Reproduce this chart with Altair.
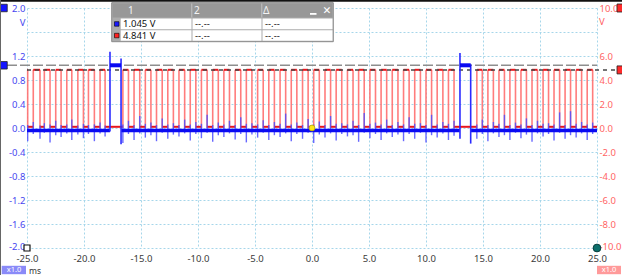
import altair as alt
import pandas as pd

# ---------------- data ----------------
x_ticks_ms = [-25, -20, -15, -10, -5, 0, 5, 10, 15, 20, 25]
ch1_ticks_v = [-2.0, -1.6, -1.2, -0.8, -0.4, 0.0, 0.4, 0.8, 1.2, 1.6, 2.0]
ch2_ticks_v = [-10, -8, -6, -4, -2, 0, 2, 4, 6, 8, 10]

# channel 2 (red) square-wave edges, ms
red_edges_ms = [
    -24.94, -24.45, -23.86, -23.48, -22.98, -22.48, -22.01, -21.51, -21.07, -20.54,
    -20.05, -19.61, -19.09, -18.59, -18.15,
    -16.59, -16.10, -15.61, -15.11, -14.62, -14.13, -13.64, -13.14, -12.65, -12.16,
    -11.67, -11.17, -10.68, -10.19, -9.70, -9.20, -8.71, -8.22, -7.73, -7.24,
    -6.74, -6.25, -5.76, -5.27, -4.77, -4.28, -3.79, -3.30, -2.80, -2.31,
    -1.82, -1.33, -0.83, -0.34, 0.15, 0.64, 1.14, 1.63, 2.12, 2.61,
    3.11, 3.60, 4.09, 4.58, 5.08, 5.57, 6.06, 6.55, 7.04, 7.54,
    8.03, 8.52, 9.01, 9.51, 10.00, 10.49, 10.98, 11.48, 11.97, 12.46,
    14.46, 14.94, 15.43, 15.91, 16.40, 16.88, 17.36, 17.85, 18.33, 18.81,
    19.30, 19.78, 20.27, 20.75, 21.23, 21.72, 22.20, 22.68, 23.17, 23.65,
    24.14, 24.62,
]
# channel 1 (blue) glitches at each edge, V
blue_spike_low_v = [
    -0.22, -0.10, -0.18, -0.08, -0.24, -0.12, -0.15, -0.09, -0.20, -0.11,
    -0.17, -0.10, -0.22, -0.09, -0.14,
    -0.25, -0.10, -0.20, -0.09, -0.16, -0.12, -0.22, -0.08, -0.18, -0.11,
    -0.14, -0.09, -0.21, -0.10, -0.17, -0.08, -0.23, -0.12, -0.15, -0.09,
    -0.19, -0.10, -0.24, -0.11, -0.16, -0.08, -0.20, -0.12, -0.15, -0.09,
    -0.22, -0.10, -0.18, -0.08, -0.25, -0.11, -0.16, -0.09, -0.21, -0.10,
    -0.14, -0.12, -0.23, -0.08, -0.17, -0.10, -0.20, -0.09, -0.15, -0.11,
    -0.22, -0.10, -0.18, -0.08, -0.24, -0.12, -0.16, -0.09, -0.20, -0.13,
    -0.18, -0.10, -0.22, -0.09, -0.15, -0.12, -0.20, -0.08, -0.17, -0.11,
    -0.23, -0.09, -0.14, -0.10, -0.21, -0.08, -0.18, -0.12, -0.16, -0.09,
    -0.20, -0.10,
]
blue_spike_high_v = [
    0.05, 0.10, 0.04, 0.08, 0.06, 0.12, 0.05, 0.06, 0.14, 0.04,
    0.07, 0.05, 0.06, 0.09, 0.04,
    0.06, 0.12, 0.05, 0.20, 0.07, 0.09, 0.05, 0.16, 0.06, 0.08,
    0.05, 0.14, 0.06, 0.10, 0.07, 0.22, 0.05, 0.09, 0.06, 0.12,
    0.05, 0.18, 0.07, 0.08, 0.06, 0.13, 0.05, 0.10, 0.07, 0.24,
    0.06, 0.09, 0.05, 0.15, 0.06, 0.11, 0.05, 0.20, 0.07, 0.08,
    0.06, 0.12, 0.05, 0.25, 0.07, 0.09, 0.06, 0.14, 0.05, 0.10,
    0.06, 0.18, 0.07, 0.08, 0.05, 0.22, 0.06, 0.10, 0.07, 0.12,
    0.06, 0.14, 0.05, 0.10, 0.07, 0.22, 0.05, 0.09, 0.06, 0.16,
    0.05, 0.12, 0.07, 0.08, 0.06, 0.26, 0.05, 0.28, 0.07, 0.10,
    0.06, 0.09,
]

red_high_v = 4.85
red_low_v = 0.1
blue_base_v = -0.04
blue_high_v = 1.045
burst_start_ms = [-17.72, 12.98]
burst_end_ms = [-16.75, 13.92]
burst_peak_v = [1.27, 1.25]
burst_low_v = [-0.06, -0.18]
burst_top_v = [1.16, 1.06]
burst_dip_v = [-0.27, -0.26]

cursor_ch1_v = 1.045
cursor_ch2_v = 4.841
cursor_headers = ["1", "2", "\u0394"]
cursor_row_ch1 = ["1.045 V", "--.--", "--.--"]
cursor_row_ch2 = ["4.841 V", "--.--", "--.--"]
time_unit = "ms"
volt_unit = "V"
zoom_labels = ["x1.0", "x1.0"]

# ---------------- tables ----------------
bounds = [-25.0] + red_edges_ms + [25.0]
red_segs = []
high = True
for a, b in zip(bounds[:-1], bounds[1:]):
    red_segs.append({"t0": a, "t1": b, "v": red_high_v if high else red_low_v})
    high = not high
red_segs = pd.DataFrame(red_segs)
red_vert = pd.DataFrame({"t": red_edges_ms, "lo": [0.0] * len(red_edges_ms),
                         "hi": [red_high_v] * len(red_edges_ms)})
blue_spikes = pd.DataFrame({"t": red_edges_ms, "lo": blue_spike_low_v, "hi": blue_spike_high_v})
blue_base = pd.DataFrame({
    "t0": [-25.0, burst_end_ms[0], burst_end_ms[1]],
    "t1": [burst_start_ms[0], burst_start_ms[1], 25.0],
    "v": [blue_base_v] * 3,
})
blue_up = pd.DataFrame({"t": burst_start_ms, "lo": burst_low_v, "hi": burst_peak_v})
blue_down = pd.DataFrame({"t": burst_end_ms, "lo": burst_dip_v, "hi": burst_top_v})
blue_hi = pd.DataFrame({"t0": burst_start_ms, "t1": burst_end_ms, "v": [blue_high_v] * 2})

# ---------------- styling ----------------
FONT = "Noto Sans"
GRID = "#a6d6ea"
BLUE_LBL = "#4646f0"
RED_LBL = "#ff6464"
num_expr = "(datum.value < 0 ? '-' : '') + format(abs(datum.value), '.1f')"

x_scale = alt.Scale(domain=[-25, 25], nice=False, zero=False)
x_axis = alt.Axis(values=x_ticks_ms, labelExpr=num_expr, labelColor="#3a3a3a", labelFont=FONT,
                  labelFontSize=9.5, labelPadding=5.5, labelFlush=False, labelOverlap=False,
                  ticks=False, domain=False, grid=True, gridColor=GRID, gridDash=[2, 2],
                  gridWidth=1, gridOpacity=1, title=None)
y1_scale = alt.Scale(domain=[-2, 2], nice=False, zero=False)
y1_axis = alt.Axis(orient="left", values=ch1_ticks_v,
                   labelExpr="datum.value == 1.6 ? '' : " + num_expr,
                   labelOffset={"condition": {"test": "datum.value == -2", "value": -1.5}, "value": 0},
                   labelColor=BLUE_LBL, labelFont=FONT, labelFontSize=9.5, labelPadding=2,
                   labelOverlap=False, ticks=False, domain=False, grid=True, gridColor=GRID,
                   gridDash=[2, 2], gridWidth=1, gridOpacity=1, title=None)
y2_scale = alt.Scale(domain=[-10, 10], nice=False, zero=False)
y2_axis = alt.Axis(orient="right", values=ch2_ticks_v,
                   labelExpr="datum.value == 8 ? '' : " + num_expr,
                   labelOffset={"condition": {"test": "datum.value == -10", "value": -1.5}, "value": 0},
                   labelColor=RED_LBL, labelFont=FONT, labelFontSize=9.5, labelPadding=2,
                   labelOverlap=False, ticks=False, domain=False, grid=False, title=None)


def ex(f):
    return alt.X(f + ":Q", scale=x_scale, axis=x_axis, title=None)


def ey1(f):
    return alt.Y(f + ":Q", scale=y1_scale, axis=y1_axis, title=None)


def ey2(f):
    return alt.Y(f + ":Q", scale=y2_scale, axis=y2_axis, title=None)


one = pd.DataFrame({"k": [0]})


def px_rect(x1, x2, y1, y2, fill, stroke="", sw=0.0):
    props = {"fill": fill}
    if stroke:
        props["stroke"] = stroke
        props["strokeWidth"] = sw
    return alt.Chart(one).mark_rect(**props).encode(
        x=alt.value(x1), x2=alt.value(x2), y=alt.value(y1), y2=alt.value(y2))


def px_text(x, y, s, color, size=10, align="left", font=FONT, weight="normal"):
    return alt.Chart(one).mark_text(text=s, color=color, fontSize=size, align=align,
                                    baseline="middle", font=font, fontWeight=weight).encode(
        x=alt.value(x), y=alt.value(y))


# ---------------- channel 2 (red, right axis) ----------------
r_vert = alt.Chart(red_vert).mark_rule(color="#ff6e6e", strokeWidth=1.6, opacity=0.9).encode(
    x=ex("t"), y=ey2("lo"), y2=alt.Y2("hi:Q"))
r_seg = alt.Chart(red_segs).mark_rule(color="#e8161c", strokeWidth=2).encode(
    x=ex("t0"), x2=alt.X2("t1:Q"), y=ey2("v"))
r_cursor = alt.Chart(pd.DataFrame({"v": [cursor_ch2_v]})).mark_rule(
    color="#474747", strokeWidth=1.5, strokeDash=[4, 4]).encode(
    y=ey2("v"), x=alt.value(0), x2=alt.value(590))
r_marks = alt.Chart(pd.DataFrame({"v": [cursor_ch2_v, 10.0]})).mark_square(
    filled=True, color="#ff2a2a", stroke="#222222", strokeWidth=0.8, size=64, opacity=1).encode(
    y=ey2("v"), x=alt.value(594))
r_end = alt.Chart(pd.DataFrame({"t": [25.0], "v": [-10.0]})).mark_circle(
    color="#0c6f6c", stroke="#063b3a", strokeWidth=1, size=60, opacity=1).encode(
    x=ex("t"), y=ey2("v"))
red_group = alt.layer(r_vert, r_seg, r_cursor, r_marks, r_end)

# ---------------- channel 1 (blue, left axis) ----------------
b_cursor = alt.Chart(pd.DataFrame({"v": [cursor_ch1_v]})).mark_rule(
    color="#8e8e8e", strokeWidth=1.5, strokeDash=[10, 3]).encode(
    y=ey1("v"), x=alt.value(-20), x2=alt.value(570))
b_spk = alt.Chart(blue_spikes).mark_rule(color="#4d4dff", strokeWidth=1.4, opacity=0.85).encode(
    x=ex("t"), y=ey1("lo"), y2=alt.Y2("hi:Q"))
b_base = alt.Chart(blue_base).mark_rule(color="#0a0af2", strokeWidth=3.5).encode(
    x=ex("t0"), x2=alt.X2("t1:Q"), y=ey1("v"))
b_up = alt.Chart(blue_up).mark_rule(color="#2a2aff", strokeWidth=1.6).encode(
    x=ex("t"), y=ey1("lo"), y2=alt.Y2("hi:Q"))
b_down = alt.Chart(blue_down).mark_rule(color="#2a2aff", strokeWidth=1.6).encode(
    x=ex("t"), y=ey1("lo"), y2=alt.Y2("hi:Q"))
b_hi = alt.Chart(blue_hi).mark_rule(color="#0a0af2", strokeWidth=4).encode(
    x=ex("t0"), x2=alt.X2("t1:Q"), y=ey1("v"))
b_marks = alt.Chart(pd.DataFrame({"v": [cursor_ch1_v, 2.0]})).mark_square(
    filled=True, color="#1515ff", stroke="#222222", strokeWidth=0.8, size=56, opacity=1).encode(
    y=ey1("v"), x=alt.value(-23.5))
b_start = alt.Chart(pd.DataFrame({"t": [-25.0], "v": [-2.0]})).mark_square(
    filled=True, color="#ffffff", stroke="#111111", strokeWidth=1.2, size=36, opacity=1).encode(
    x=ex("t"), y=ey1("v"))
b_trig = alt.Chart(pd.DataFrame({"t": [0.0], "v": [0.0]})).mark_circle(
    color="#ffe81a", stroke="#b9a400", strokeWidth=0.8, size=34, opacity=1).encode(
    x=ex("t"), y=ey1("v"))
blue_group = alt.layer(b_cursor, b_spk, b_base, b_up, b_down, b_hi, b_marks, b_start, b_trig)

# ---------------- overlay (window chrome, cursor table, badges) ----------------
ov = [
    px_rect(-27, 595, -8, -6.3, "#111111"),
    px_rect(-27, -26, -8, 267, "#666666"),
    px_text(-1.5, 14.5, volt_unit, BLUE_LBL, 9.5, "right"),
    px_text(572, 14, volt_unit, RED_LBL, 9.5, "left"),
    # cursor table
    px_rect(84.7, 306.3, -5.3, 33.7, "#ababab", "#8c8c8c", 1),
    px_rect(85.5, 305.5, -4.5, 9.5, "#989898"),
    px_rect(164.3, 165.3, -4.5, 9.5, "#c4c4c4"),
    px_rect(234.3, 235.3, -4.5, 9.5, "#c4c4c4"),
]
cols = [(93.7, 164.5), (165.5, 234.5), (235.5, 305.5)]
rows = [(10.5, 21.3), (22.3, 32.8)]
for (ya, yb) in rows:
    for (xa, xb) in cols:
        ov.append(px_rect(xa, xb, ya, yb, "#ffffff"))
ov.append(px_rect(87.5, 92, 13.7, 18.2, "#1a1aff", "#000000", 0.6))
ov.append(px_rect(87.5, 92, 25.3, 29.8, "#ff2020", "#000000", 0.6))
for s, xx in zip(cursor_headers, [101, 167, 236]):
    ov.append(px_text(xx, 2.5, s, "#f4f4f4", 10))
ov.append(px_rect(283, 289.5, 5, 6.8, "#ffffff"))
ov.append(px_text(300, 2.5, "\u2715", "#ffffff", 10.5, "center", "DejaVu Sans", "bold"))
for row, (ya, yb) in zip([cursor_row_ch1, cursor_row_ch2], rows):
    for s, xx in zip(row, [96, 168, 238]):
        ov.append(px_text(xx, (ya + yb) / 2, s, "#111111", 9.5))
# bottom badges
ov.append(px_rect(-25.3, -1, 257.8, 266.2, "#8a8af8"))
ov.append(px_text(-13, 262.1, zoom_labels[0], "#ffffff", 7.5, "center"))
ov.append(px_text(2, 263.3, time_unit, "#333333", 8.5, "left"))
ov.append(px_rect(570, 594, 257.8, 266.2, "#ff9a9a"))
ov.append(px_text(582, 262.1, zoom_labels[1], "#ffffff", 7.5, "center"))
overlay = alt.layer(*ov)

chart = alt.layer(red_group, blue_group, overlay).resolve_scale(y="independent").properties(
    width=570, height=240,
    autosize=alt.AutoSizeParams(type="none"),
    padding={"left": 27, "top": 8, "right": 25, "bottom": 27},
    background="#ffffff",
).configure_view(stroke="transparent")

chart.save("out.html", embed_options={"renderer": "svg", "actions": False})
